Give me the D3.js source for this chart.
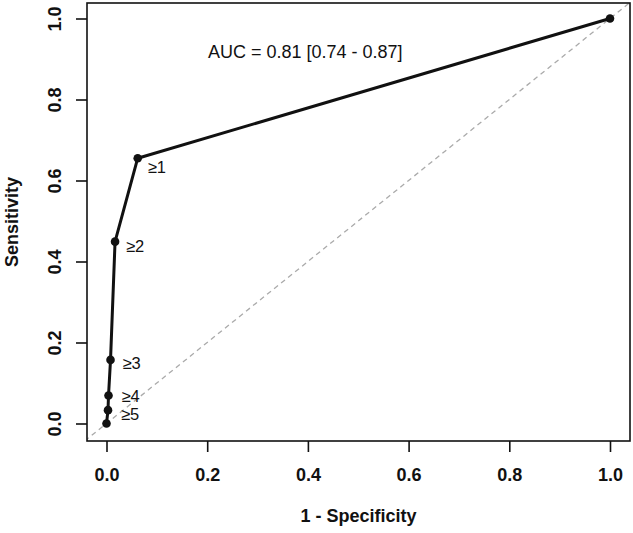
<!DOCTYPE html>
<html>
<head>
<meta charset="utf-8">
<script src="https://cdn.jsdelivr.net/npm/d3@7"></script>
<style>
  body { margin: 0; background: #fff; }
  text { font-family: "Liberation Sans", Arial, sans-serif; fill: #111; }
</style>
</head>
<body>
<div id="chart"></div>
<script>
// ROC curve points
const cutoffs = ['', '≥5', '≥4', '≥3', '≥2', '≥1', ''];
const fpr = [0, 0.003, 0.004, 0.008, 0.017, 0.062, 1];
const tpr = [0, 0.033, 0.069, 0.157, 0.449, 0.655, 1];
const ticks = [0, 0.2, 0.4, 0.6, 0.8, 1.0];
const aucLabel = 'AUC = 0.81 [0.74 - 0.87]';

// label nudges (px) next to each point
const labelDx = [0, 13, 13, 12, 11, 10, 0];
const labelDy = [0, 4, 1, 3, 5, 9, 0];

const width = 633, height = 533;
// plot box edges
const box = {left: 87, right: 630, top: 3, bottom: 441};

const svg = d3.select('#chart').append('svg')
    .attr('width', width)
    .attr('height', height);

const x = d3.scaleLinear().domain([0, 1]).range([106.5, 610]);
const y = d3.scaleLinear().domain([0, 1]).range([423.5, 18.5]);

// clip to the plot box
svg.append('clipPath').attr('id', 'plotclip')
  .append('rect')
    .attr('x', box.left).attr('y', box.top)
    .attr('width', box.right - box.left)
    .attr('height', box.bottom - box.top);

const plot = svg.append('g').attr('clip-path', 'url(#plotclip)');

// reference diagonal (abline), stretched across the whole box
const lo = Math.min(x.invert(box.left), y.invert(box.bottom));
const hi = Math.max(x.invert(box.right), y.invert(box.top));
plot.append('line')
    .attr('x1', x(lo)).attr('y1', y(lo))
    .attr('x2', x(hi)).attr('y2', y(hi))
    .attr('stroke', '#aaa')
    .attr('stroke-width', 1.3)
    .attr('stroke-dasharray', '5,4');

const pts = fpr.map((v, i) => ({fx: v, sy: tpr[i], lab: cutoffs[i], dx: labelDx[i], dy: labelDy[i]}));

const line = d3.line().x(d => x(d.fx)).y(d => y(d.sy));
plot.append('path')
    .datum(pts)
    .attr('d', line)
    .attr('fill', 'none')
    .attr('stroke', '#111')
    .attr('stroke-width', 3)
    .attr('stroke-linejoin', 'round');

plot.selectAll('circle.pt')
  .data(pts)
  .join('circle')
    .classed('pt', true)
    .attr('cx', d => x(d.fx))
    .attr('cy', d => y(d.sy))
    .attr('r', 4.3)
    .attr('fill', '#111');

plot.selectAll('text.cut')
  .data(pts.filter(d => d.lab))
  .join('text')
    .classed('cut', true)
    .attr('x', d => x(d.fx) + d.dx)
    .attr('y', d => y(d.sy) + d.dy)
    .attr('dy', '0.35em')
    .attr('font-size', 16.5)
    .text(d => d.lab);

// AUC annotation
svg.append('text')
    .attr('x', 208)
    .attr('y', 52)
    .attr('dy', '0.35em')
    .attr('font-size', 18)
    .text(aucLabel);

// plot frame
svg.append('rect')
    .attr('x', box.left).attr('y', box.top)
    .attr('width', box.right - box.left)
    .attr('height', box.bottom - box.top)
    .attr('fill', 'none')
    .attr('stroke', '#111')
    .attr('stroke-width', 1.6);

// x axis
const xAxis = svg.append('g')
    .attr('transform', `translate(0,${box.bottom})`)
    .call(d3.axisBottom(x).tickValues(ticks).tickFormat(d3.format('.1f')).tickSize(11).tickPadding(16));
xAxis.select('.domain').remove();
xAxis.selectAll('line').attr('stroke', '#111').attr('stroke-width', 1.6);
xAxis.selectAll('text')
    .attr('font-size', 18)
    .attr('font-weight', 'bold')
    .attr('font-family', '"Liberation Sans", Arial, sans-serif')
    .attr('fill', '#111');

// y axis, labels turned like base R plots
const yAxis = svg.append('g')
    .attr('transform', `translate(${box.left},0)`)
    .call(d3.axisLeft(y).tickValues(ticks).tickFormat(d3.format('.1f')).tickSize(11));
yAxis.select('.domain').remove();
yAxis.selectAll('line').attr('stroke', '#111').attr('stroke-width', 1.6);
yAxis.selectAll('text')
    .attr('x', null).attr('dy', null)
    .attr('transform', 'translate(-32,0) rotate(-90)')
    .attr('text-anchor', 'middle')
    .attr('dominant-baseline', 'central')
    .attr('font-size', 18)
    .attr('font-weight', 'bold')
    .attr('font-family', '"Liberation Sans", Arial, sans-serif')
    .attr('fill', '#111');

// axis titles
svg.append('text')
    .attr('x', (box.left + box.right) / 2)
    .attr('y', 516)
    .attr('dy', '0.35em')
    .attr('text-anchor', 'middle')
    .attr('font-size', 18)
    .attr('font-weight', 'bold')
    .text('1 - Specificity');

svg.append('text')
    .attr('transform', `translate(12,${(box.top + box.bottom) / 2}) rotate(-90)`)
    .attr('dy', '0.35em')
    .attr('text-anchor', 'middle')
    .attr('font-size', 18)
    .attr('font-weight', 'bold')
    .text('Sensitivity');
</script>
</body>
</html>
